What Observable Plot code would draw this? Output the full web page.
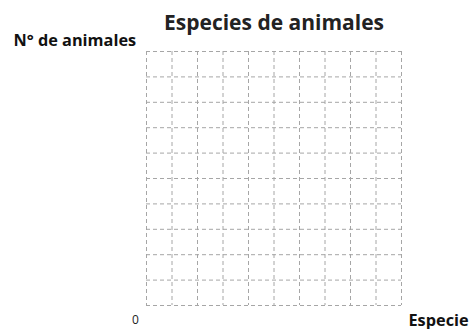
<!DOCTYPE html>
<html>
<head>
<meta charset="utf-8">
<script src="https://cdn.jsdelivr.net/npm/d3@7"></script>
<script src="https://cdn.jsdelivr.net/npm/@observablehq/plot@0.6"></script>
<style>
  html, body { margin: 0; padding: 0; background: #fff; }
  #chart svg { display: block; }
</style>
</head>
<body>
<div id="chart"></div>
<script>
const title = "Especies de animales";
const yLabel = "N° de animales";
const xLabel = "Especie";
const originLabel = ["0"];
const xGrid = [0, 1, 2, 3, 4, 5, 6, 7, 8, 9, 10];
const yGrid = [0, 1, 2, 3, 4, 5, 6, 7, 8, 9, 10];

const font = "'Open Sans', 'Noto Sans', sans-serif";
const gridColor = "#a6a6a6";

const chart = Plot.plot({
  width: 472,
  height: 329,
  marginLeft: 146,
  marginRight: 71,
  marginTop: 51,
  marginBottom: 24,
  style: { fontFamily: font, background: "#fff" },
  x: { domain: [0, 10], axis: null },
  y: { domain: [0, 10], axis: null },
  marks: [
    Plot.ruleX(xGrid, { x: d => d, stroke: gridColor, strokeWidth: 1, strokeDasharray: "4,3" }),
    Plot.ruleY(yGrid, { y: d => d, stroke: gridColor, strokeWidth: 1, strokeDasharray: "4,3" }),
    Plot.text([title], { frameAnchor: "top", text: d => d, dy: -22, lineAnchor: "bottom", fontSize: 21, fontWeight: "bold", fill: "#222" }),
    Plot.text([yLabel], { frameAnchor: "top-left", text: d => d, dx: -133, dy: -5.5, lineAnchor: "bottom", textAnchor: "start", fontSize: 16.3, fontWeight: "bold", fill: "#111" }),
    Plot.text([xLabel], { frameAnchor: "bottom-right", text: d => d, dx: 7, dy: 20, lineAnchor: "bottom", textAnchor: "start", fontSize: 16.3, fontWeight: "bold", fill: "#111" }),
    Plot.text(originLabel, { x: () => 0, y: () => 0, text: d => d, dx: -11, dy: 18, lineAnchor: "bottom", fontSize: 12, fill: "#222" })
  ]
});
document.getElementById("chart").appendChild(chart);
</script>
</body>
</html>
